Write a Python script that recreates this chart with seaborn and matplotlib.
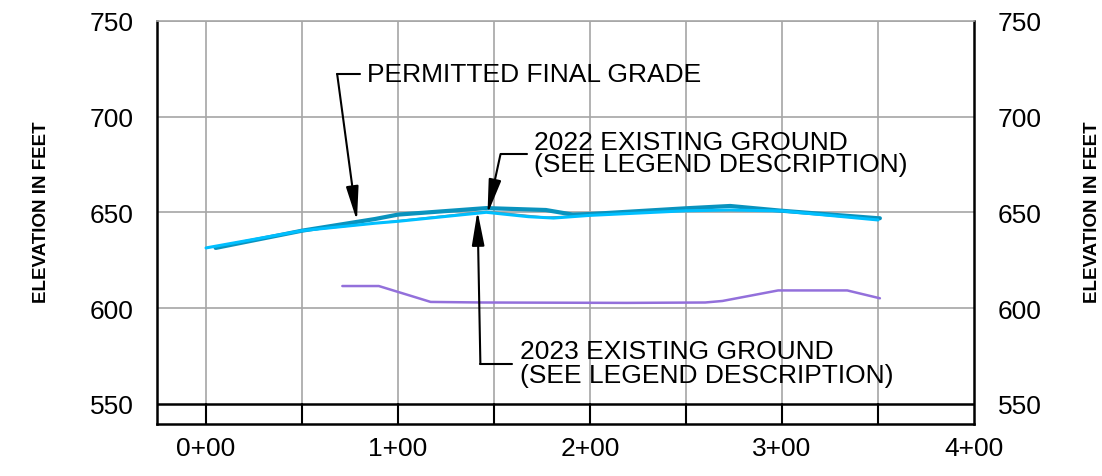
import matplotlib
matplotlib.use("Agg")
import matplotlib.pyplot as plt
import seaborn as sns
import pandas as pd

# ---- data (station in ft, elevation in ft) ----
grade_sta = [5, 50, 88, 100, 146, 177, 191, 200, 250, 273, 300, 350, 351]
grade_elev = [631.5, 640.5, 646.6, 648.9, 652.3, 651.3, 648.9, 649.2, 652.2, 653.4, 650.9, 647.0, 647.0]

eg2022_sta = [0, 50, 100, 146, 177, 200, 250, 300, 350]
eg2022_elev = [631.5, 640.3, 645.7, 650.6, 647.5, 648.5, 651.0, 651.0, 646.5]

eg2023_sta = [0, 50, 88, 100, 146, 168, 181, 200, 250, 273, 300, 350]
eg2023_elev = [631.5, 640.5, 644.4, 645.4, 650.1, 647.8, 647.1, 648.5, 650.9, 651.3, 650.8, 646.1]

lower_sta = [71, 90, 117, 144, 219, 260, 269, 298, 334, 351]
lower_elev = [611.6, 611.6, 603.3, 603.0, 602.8, 603.0, 603.8, 609.3, 609.3, 605.2]

x_ticks = [0, 100, 200, 300, 400]
x_labels = ["0+00", "1+00", "2+00", "3+00", "4+00"]
y_ticks = [550, 600, 650, 700, 750]

sns.set_style("white")
plt.rcParams["font.family"] = ["Liberation Sans", "DejaVu Sans"]
plt.rcParams["text.color"] = "black"

fig = plt.figure(figsize=(11.02, 4.77), dpi=100)
ax = fig.add_axes([0.1429, 0.110, 0.8838 - 0.1429, 0.9539 - 0.110])

XMIN, XMAX = -25.3, 400
YMIN, YMAX = 539.8, 750

# grid
for gx in range(0, 400, 50):
    ax.plot([gx, gx], [550, YMAX], color="#a6a6a6", lw=1.2, zorder=1)
    ax.plot([gx, gx], [YMIN, 550], color="black", lw=1.5, zorder=1)
for gy in [600, 650, 700, 750]:
    ax.plot([XMIN, XMAX], [gy, gy], color="#a6a6a6", lw=1.2, zorder=1)
ax.plot([XMIN, XMAX], [550, 550], color="black", lw=1.8, zorder=2)

def draw(sta, elev, color, lw, z):
    df = pd.DataFrame({"sta": sta, "elev": elev})
    sns.lineplot(data=df, x="sta", y="elev", color=color, lw=lw, sort=False,
                 estimator=None, ax=ax, zorder=z)

draw(lower_sta, lower_elev, "#9370DB", 1.8, 3)
draw(eg2022_sta, eg2022_elev, "#808080", 1.1, 3)
draw(grade_sta, grade_elev, "#0A93BE", 3.0, 4)
draw(eg2023_sta, eg2023_elev, "#00BFFF", 2.2, 5)

ax.set_xlim(XMIN, XMAX)
ax.set_ylim(YMIN, YMAX)
ax.set_xticks(x_ticks)
ax.set_xticklabels(x_labels)
ax.set_yticks(y_ticks)
ax.tick_params(axis="both", length=0, labelsize=19, colors="black")
ax.tick_params(axis="y", pad=17, labelright=True, labelleft=True)
ax.tick_params(axis="x", pad=9)
ax.set_xlabel("")
ax.set_ylabel("")

for side in ["left", "right", "bottom"]:
    ax.spines[side].set_color("black")
    ax.spines[side].set_linewidth(1.8)
ax.spines["top"].set_color("#a6a6a6")
ax.spines["top"].set_linewidth(1.2)

fig.text(0.038, 0.555, "ELEVATION IN FEET", rotation=90, fontsize=13.5, fontweight="bold",
         ha="center", va="center", color="black")
fig.text(0.991, 0.555, "ELEVATION IN FEET", rotation=90, fontsize=13.5, fontweight="bold",
         ha="center", va="center", color="black")

arrow = dict(arrowstyle="-|>,head_length=1.1,head_width=0.2", lw=1.5, color="black",
             shrinkA=0, shrinkB=0, mutation_scale=19)

# Permitted final grade
ax.plot([68.3, 80.2], [722.3, 722.3], color="black", lw=1.5, zorder=6)
ax.annotate("", xy=(78.6, 645.6), xytext=(68.3, 722.3), arrowprops=arrow, zorder=6)
ax.text(84, 722.3, "PERMITTED FINAL GRADE", fontsize=19, va="center", ha="left", color="black")

# 2022 existing ground
ax.plot([153.4, 167.4], [680.5, 680.5], color="black", lw=1.5, zorder=6)
ax.annotate("", xy=(146.6, 649.2), xytext=(153.4, 680.5), arrowprops=arrow, zorder=6)
ax.text(170.6, 686.8, "2022 EXISTING GROUND", fontsize=19, va="center", ha="left", color="black")
ax.text(170.6, 675.3, "(SEE LEGEND DESCRIPTION)", fontsize=19, va="center", ha="left", color="black")

# 2023 existing ground
ax.plot([142.9, 159.4], [571.0, 571.0], color="black", lw=1.5, zorder=6)
ax.annotate("", xy=(141.4, 650.8), xytext=(142.9, 571.0), arrowprops=arrow, zorder=6)
ax.text(163.3, 577.7, "2023 EXISTING GROUND", fontsize=19, va="center", ha="left", color="black")
ax.text(163.3, 565.1, "(SEE LEGEND DESCRIPTION)", fontsize=19, va="center", ha="left", color="black")

fig.savefig("out.png", dpi=100)
